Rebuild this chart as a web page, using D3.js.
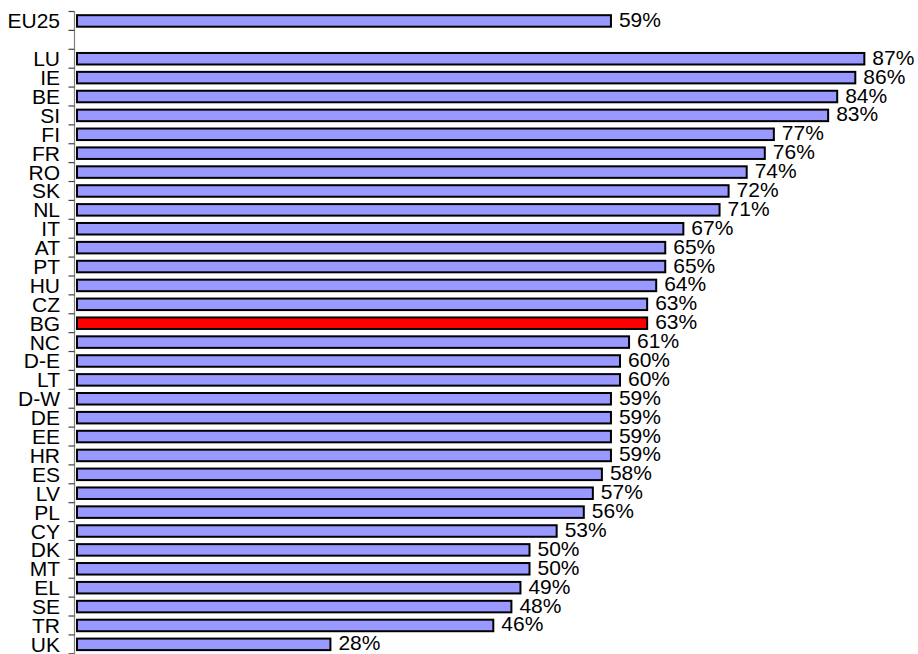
<!DOCTYPE html>
<html>
<head>
<meta charset="utf-8">
<script src="https://cdn.jsdelivr.net/npm/d3@7"></script>
<style>
  html, body { margin: 0; padding: 0; background: #fff; }
  svg { display: block; }
  text { font-family: "Liberation Sans", Arial, sans-serif; fill: #000; }
</style>
</head>
<body>
<svg id="chart" width="918" height="654"></svg>
<script>
const categories = ["EU25", "", "LU", "IE", "BE", "SI", "FI", "FR", "RO", "SK", "NL", "IT", "AT", "PT", "HU", "CZ", "BG", "NC", "D-E", "LT", "D-W", "DE", "EE", "HR", "ES", "LV", "PL", "CY", "DK", "MT", "EL", "SE", "TR", "UK"];
const values = [59, null, 87, 86, 84, 83, 77, 76, 74, 72, 71, 67, 65, 65, 64, 63, 63, 61, 60, 60, 59, 59, 59, 59, 58, 57, 56, 53, 50, 50, 49, 48, 46, 28];
const highlight = ["BG"];

const keys = categories.map((c, i) => i);
const svg = d3.select("#chart");

const y = d3.scaleBand().domain(keys).range([11.5, 653.8]).paddingInner(0.39).paddingOuter(0.195);
const x = d3.scaleLinear().domain([0, 100]).range([77, 982]);
const axisX = 74.5;

// axis line
svg.append("line")
  .attr("x1", axisX).attr("x2", axisX)
  .attr("y1", y.range()[0]).attr("y2", y.range()[1])
  .attr("stroke", "#808080").attr("stroke-width", 1.2);

// boundary ticks
const bounds = keys.map(k => y(k) - y.step() * y.paddingInner() / 2);
bounds.push(y.range()[1]);
svg.selectAll("line.tick").data(bounds).join("line")
  .attr("class", "tick")
  .attr("x1", axisX - 6).attr("x2", axisX)
  .attr("y1", d => d).attr("y2", d => d)
  .attr("stroke", "#404040").attr("stroke-width", 1.2);

const data = keys.map(i => ({ key: i, cat: categories[i], v: values[i] })).filter(d => d.v != null);

// bars
svg.selectAll("rect.bar").data(data).join("rect")
  .attr("class", "bar")
  .attr("x", x(0))
  .attr("y", d => y(d.key))
  .attr("width", d => x(d.v) - x(0))
  .attr("height", y.bandwidth())
  .attr("fill", d => highlight.includes(d.cat) ? "#FF0000" : "#9999FF")
  .attr("stroke", "#000").attr("stroke-width", 2);

// category labels
svg.selectAll("text.cat").data(data).join("text")
  .attr("class", "cat")
  .attr("x", 60)
  .attr("y", d => y(d.key) + y.bandwidth() / 2 + 7.5)
  .attr("text-anchor", "end")
  .attr("font-size", "21px")
  .text(d => d.cat);

// value labels
svg.selectAll("text.val").data(data).join("text")
  .attr("class", "val")
  .attr("x", d => x(d.v) + 8)
  .attr("y", d => y(d.key) + y.bandwidth() / 2 + 6)
  .attr("font-size", "21px")
  .text(d => d.v + "%");
</script>
</body>
</html>
